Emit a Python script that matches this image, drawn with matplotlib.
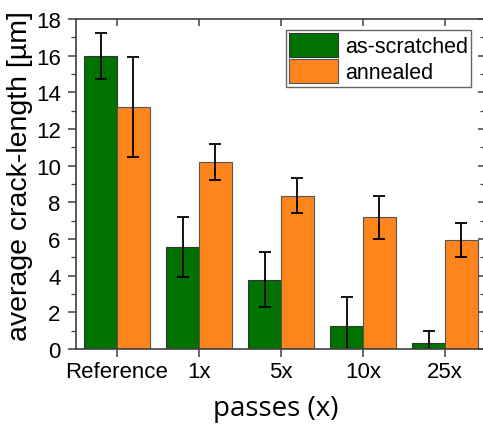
import numpy as np
import matplotlib
matplotlib.use("Agg")
import matplotlib.pyplot as plt
from matplotlib.ticker import MultipleLocator

categories = ["Reference", "1x", "5x", "10x", "25x"]
as_scratched = [15.97, 5.57, 3.77, 1.28, 0.33]
as_scratched_err = [1.25, 1.65, 1.50, 1.58, 0.63]
annealed = [13.2, 10.2, 8.37, 7.18, 5.95]
annealed_err = [2.73, 1.0, 0.97, 1.16, 0.92]

green = "#007200"
orange = "#FD851C"

plt.rcParams["font.family"] = ["Liberation Sans", "DejaVu Sans"]

fig = plt.figure(figsize=(4.83, 4.27), dpi=100)
ax = fig.add_axes([76 / 483, 77 / 427, 410 / 483, 330 / 427])

x = np.arange(len(categories))
w = 0.4
err_kw = dict(ecolor="black", elinewidth=1.3, capsize=4, capthick=1.3)
ax.bar(x - w / 2, as_scratched, w, color=green, edgecolor="#333333",
       linewidth=0.8, yerr=as_scratched_err, error_kw=err_kw,
       label="as-scratched")
ax.bar(x + w / 2, annealed, w, color=orange, edgecolor="#555555",
       linewidth=0.8, yerr=annealed_err, error_kw=err_kw,
       label="annealed")

ax.set_xlim(-0.5, 4.5)
ax.set_ylim(0, 18)
ax.set_xticks(x)
ax.set_xticklabels(categories)
ax.yaxis.set_major_locator(MultipleLocator(2))
ax.yaxis.set_minor_locator(MultipleLocator(1))

for s in ax.spines.values():
    s.set_color("#404040")
    s.set_linewidth(1.2)

ax.tick_params(axis="both", which="major", labelsize=16, color="#404040",
               width=1.1, length=6, direction="out")
ax.tick_params(axis="y", which="major", pad=5)
ax.tick_params(axis="x", which="major", pad=3)
ax.tick_params(axis="y", which="minor", length=3.5, width=0.9,
               color="#404040", direction="out")
ax.tick_params(top=True, right=True, which="both")
ax.tick_params(axis="x", which="major", top=True)
# top/right ticks point inward
for t in ax.xaxis.get_major_ticks():
    t.tick2line.set_marker(3)  # TICKDOWN
    t.tick2line.set_markersize(5)
for t in ax.yaxis.get_major_ticks():
    t.tick2line.set_marker(0)  # TICKLEFT
    t.tick2line.set_markersize(6)
for t in ax.yaxis.get_minor_ticks():
    t.tick2line.set_marker(0)
    t.tick2line.set_markersize(4)

ax.set_ylabel("average crack-length [\u00b5m]", fontsize=20.5, labelpad=2)
ax.yaxis.label.set_y(0.527)
ax.set_xlabel("passes (x)", fontsize=20, family=["Open Sans", "DejaVu Sans"],
              labelpad=8)
ax.xaxis.label.set_x(0.488)

leg = ax.legend(loc="upper right", bbox_to_anchor=(471 / 483, 1 - 31 / 427),
                bbox_transform=fig.transFigure, fontsize=15.5, frameon=True,
                fancybox=False, edgecolor="#404040", handlelength=2.3,
                handleheight=1.3, handletextpad=0.3, borderpad=0.15,
                labelspacing=0.1, borderaxespad=0)
leg.get_frame().set_linewidth(1.0)

fig.savefig("out.png", dpi=100)
